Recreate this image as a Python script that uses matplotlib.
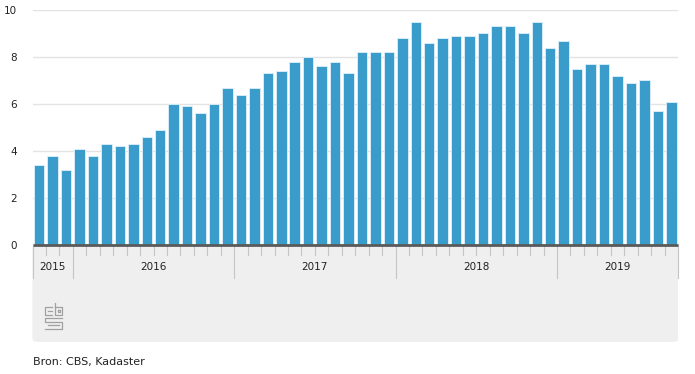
import matplotlib
matplotlib.use("Agg")
import matplotlib.pyplot as plt
from matplotlib.patches import FancyBboxPatch, Rectangle
from matplotlib.lines import Line2D
import numpy as np

# ---------------------------------------------------------------
# data (monthly values, Oct 2015 - Sep 2019)
# ---------------------------------------------------------------
years = ["2015", "2016", "2017", "2018", "2019"]
vals_2015 = [3.4, 3.8, 3.2]
vals_2016 = [4.1, 3.8, 4.3, 4.2, 4.3, 4.6, 4.9, 6.0, 5.9, 5.6, 6.0, 6.7]
vals_2017 = [6.4, 6.7, 7.3, 7.4, 7.8, 8.0, 7.6, 7.8, 7.3, 8.2, 8.2, 8.2]
vals_2018 = [8.8, 9.5, 8.6, 8.8, 8.9, 8.9, 9.0, 9.3, 9.3, 9.0, 9.5, 8.4]
vals_2019 = [8.7, 7.5, 7.7, 7.7, 7.2, 6.9, 7.0, 5.7, 6.1]
yticks = [0, 2, 4, 6, 8, 10]
source = "Bron: CBS, Kadaster"

groups = [vals_2015, vals_2016, vals_2017, vals_2018, vals_2019]
values = np.concatenate(groups)
x = np.arange(len(values))

W, H = 695, 374
fig = plt.figure(figsize=(W / 100, H / 100), dpi=100)

# pixel helpers
def fx(px):
    return px / W
def fy(py):
    return 1 - py / H

ax_l, ax_r, ax_b, ax_t = 32.5, 678, 245, 10
ax = fig.add_axes([fx(ax_l), fy(ax_b), fx(ax_r - ax_l), (ax_b - ax_t) / H])

# grey panel under the axis
panel = FancyBboxPatch((fx(ax_l), fy(342)), fx(ax_r - ax_l), (342 - ax_b) / H,
                       boxstyle="round,pad=0,rounding_size=0.008",
                       transform=fig.transFigure, facecolor="#efefef",
                       edgecolor="none", zorder=-2)
fig.patches.append(panel)
# square off the top corners of the panel
fig.patches.append(Rectangle((fx(ax_l), fy(260)), fx(ax_r - ax_l), 15 / H,
                             transform=fig.transFigure, facecolor="#efefef",
                             edgecolor="none", zorder=-2))

ax.bar(x, values, width=0.78, color="#3a9ccb", edgecolor="#dff2fb",
       linewidth=0.6, zorder=3)

ax.set_xlim(-0.5, len(values) - 0.5)
ax.set_ylim(0, 10)
ax.set_yticks(yticks)
ax.set_yticklabels([str(t) for t in yticks])
ax.tick_params(axis="y", length=0, pad=11, labelsize=7.5, labelcolor="#222222")
ax.set_xticks([])
ax.grid(axis="y", color="#e3e3e3", linewidth=1.0, zorder=0)
for s in ["top", "right", "left"]:
    ax.spines[s].set_visible(False)
ax.spines["bottom"].set_color("#5a5a5a")
ax.spines["bottom"].set_linewidth(2.0)
ax.spines["bottom"].set_capstyle("butt")
ax.spines["bottom"].set_zorder(4)

# month ticks and year dividers below the axis
trans = ax.get_xaxis_transform()
tick_len = 10 / (ax_b - ax_t)
div_len = 33 / (ax_b - ax_t)
start = 0
bounds = [-0.5]
for g in groups:
    start += len(g)
    bounds.append(start - 0.5)
for b in np.arange(0.5, len(values) - 0.5, 1.0):
    if b not in bounds:
        ax.add_line(Line2D([b, b], [0, -tick_len], transform=trans,
                           color="#c4c4c4", linewidth=0.8, clip_on=False))
for b in bounds:
    ax.add_line(Line2D([b, b], [0, -div_len], transform=trans,
                       color="#c4c4c4", linewidth=0.8, clip_on=False))
for i, yr in enumerate(years):
    mid = (bounds[i] + bounds[i + 1]) / 2
    ax.text(mid, -22 / (ax_b - ax_t), yr, transform=trans, ha="center",
            va="center", fontsize=7.5, color="#222222")

# simple cbs logo outline
logo_c = "#a0a0a0"
def pline(xs, ys):
    fig.add_artist(Line2D([fx(v) for v in xs], [fy(v) for v in ys],
                          transform=fig.transFigure, color=logo_c,
                          linewidth=0.9))
pline([52, 45, 45, 52], [307, 307, 315, 315])
pline([48, 52], [311, 311])
pline([55, 55, 62, 62, 55], [303, 315, 315, 307, 307])
pline([58, 60, 60, 58, 58], [310, 310, 312, 312, 310])
pline([62, 45, 45, 62, 62, 45], [318, 318, 322, 322, 329, 329])
pline([59, 48], [325, 325])

fig.text(fx(33), fy(362), source, ha="left", va="center", fontsize=8,
         color="#222222")

fig.savefig("out.png", dpi=100)
